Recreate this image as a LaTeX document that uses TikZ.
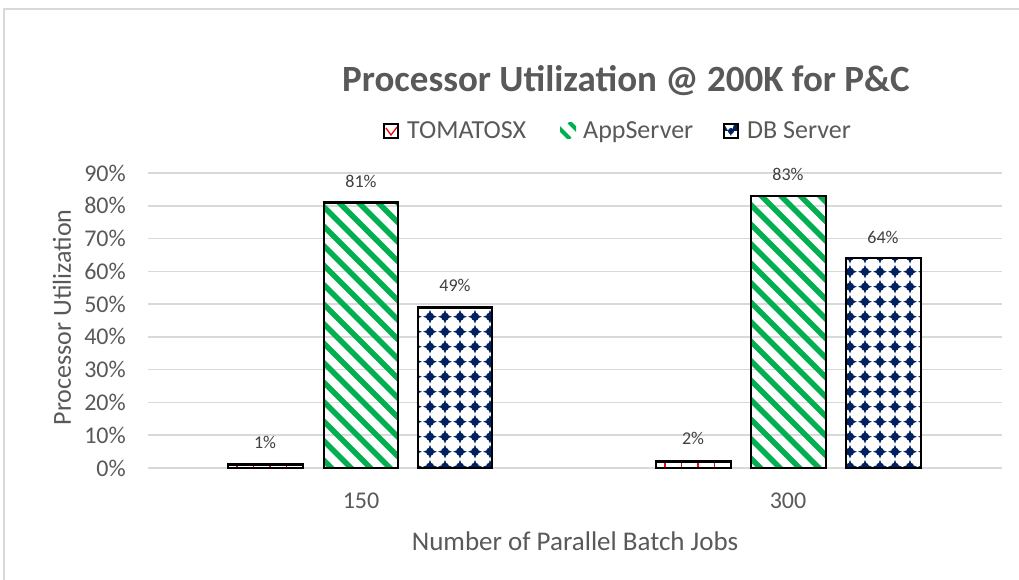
\documentclass[tikz,border=0pt]{standalone}
\usepackage{fontspec}
\setmainfont{Carlito}
\definecolor{txt}{HTML}{595959}
\definecolor{lbl}{HTML}{404040}
\definecolor{gridc}{HTML}{D9D9D9}
\definecolor{appg}{HTML}{00B050}
\definecolor{navy}{HTML}{002060}
\newcommand\vy[1]{468-3.278*#1}
\newcommand\appstripes[3]{%
  \begin{scope}
    \clip (#1,468) rectangle (#2,#3);
    \foreach \k in {-40,...,60} \draw[appg,line width=5.5pt] ({\k*19.5},0) -- ++(600,600);
  \end{scope}}
\newcommand\dbstars[3]{%
  \begin{scope}
    \clip (#1,468) rectangle (#2,#3);
    \foreach \i in {-32,...,6} {\foreach \j in {-6,...,14} {%
      \fill[navy] ({850+15*\i},{271.7+15*\j}) circle (4.1)
        +(0,-6.8) -- +(1.9,-1.9) -- +(6.8,0) -- +(1.9,1.9) -- +(0,6.8) -- +(-1.9,1.9) -- +(-6.8,0) -- +(-1.9,-1.9) -- cycle;}}
  \end{scope}}
\newcommand\tomamarks[3]{%
  \begin{scope}
    \clip (#1,468) rectangle (#2,#3);
    \foreach \i in {0,...,6} \draw[red,line width=1.5pt] ({#1+9+\i*16.5},468) -- ++(0,-8);
  \end{scope}}
\tikzset{
  gridline/.style={gridc,line width=1.6pt},
  barframe/.style={draw=black,line width=2.5pt},
  ticklbl/.style={text=txt,font=\fontsize{24}{28}\selectfont,anchor=east,inner sep=0pt},
  datalbl/.style={text=lbl,font=\fontsize{18}{21}\selectfont,inner sep=0pt},
  legtxt/.style={text=txt,font=\fontsize{26}{30}\selectfont,anchor=base west,inner sep=0pt},
}
\begin{document}
\begin{tikzpicture}[x=1pt,y=-1pt]
\useasboundingbox (0,0) rectangle (1019,580);
\fill[white] (0,0) rectangle (1019,580);
\draw[gridc,line width=1.5pt] (1019,9) -- (4,9) -- (4,580);
% title
\node[text=txt,font=\bfseries\fontsize{37}{42}\selectfont,inner sep=0pt] (title) at (626,81) {Processor Utilization @ 200K for P\&C};
% grid and ticks
\foreach \i in {0,...,9} {
  \draw[gridline] (148,{\vy{\i*10}}) -- (1002,{\vy{\i*10}});
}
\node[ticklbl] (t0) at (126,{\vy{0}}) {0\%};
\foreach \i in {1,...,9} {
  \node[ticklbl] (t\i) at (126,{\vy{\i*10}}) {\i0\%};
}
% bars: 150
\fill[white] (228,468) rectangle (303,{\vy{1}});
\tomamarks{228}{303}{\vy{1}}
\draw[barframe] (228,468) rectangle (303,{\vy{1}});
\appstripes{324}{398}{\vy{81}}
\draw[barframe] (324,468) rectangle (398,{\vy{81}});
\fill[white] (418,468) rectangle (492,{\vy{49}});
\dbstars{418}{492}{\vy{49}}
\draw[barframe] (418,468) rectangle (492,{\vy{49}});
% bars: 300
\fill[white] (656,468) rectangle (731,{\vy{2}});
\tomamarks{656}{731}{\vy{2}}
\draw[barframe] (656,468) rectangle (731,{\vy{2}});
\appstripes{751}{826}{\vy{83}}
\draw[barframe] (751,468) rectangle (826,{\vy{83}});
\fill[white] (846,468) rectangle (921,{\vy{64}});
\dbstars{846}{921}{\vy{64}}
\draw[barframe] (846,468) rectangle (921,{\vy{64}});
% data labels
\node[datalbl] (d1) at (265,442) {1\%};
\node[datalbl] (d2) at (361,181) {81\%};
\node[datalbl] (d3) at (455,285) {49\%};
\node[datalbl] (d4) at (693,438) {2\%};
\node[datalbl] (d5) at (788,174) {83\%};
\node[datalbl] (d6) at (883,237) {64\%};
% category labels
\node[text=txt,font=\fontsize{24}{28}\selectfont,inner sep=0pt] (c1) at (361,501) {150};
\node[text=txt,font=\fontsize{24}{28}\selectfont,inner sep=0pt] (c2) at (788,501) {300};
% axis titles
\node[text=txt,font=\fontsize{27}{32}\selectfont,inner sep=0pt] (xt) at (575,541) {Number of Parallel Batch Jobs};
\node[text=txt,font=\fontsize{26}{31}\selectfont,inner sep=0pt,rotate=90] (yt) at (62,317.5) {Processor Utilization};
% legend
\fill[white] (384,124) rectangle (398,138);
\draw[red,line width=1.3pt] (386,128) -- (391,135) -- (397,127);
\draw[black,line width=2pt] (384,124) rectangle (398,138);
\node[legtxt] (l1) at (407,139) {TOMATOSX};
\begin{scope}
  \clip (560,123) rectangle (576,139);
  \draw[appg,line width=4pt] (558,127) -- (570,139);
  \draw[appg,line width=4pt] (569,122) -- (578,131);
\end{scope}
\node[legtxt] (l2) at (583,139) {AppServer};
\fill[white] (724,124) rectangle (738,138);
\fill[navy] (724,124) rectangle (738,131) (724,124) -- (734,124) -- (731,136) -- cycle;
\fill[navy] (731,131) circle (3);
\draw[black,line width=2pt] (724,124) rectangle (738,138);
\node[legtxt] (l3) at (747,139) {DB Server};
\end{tikzpicture}
\end{document}
